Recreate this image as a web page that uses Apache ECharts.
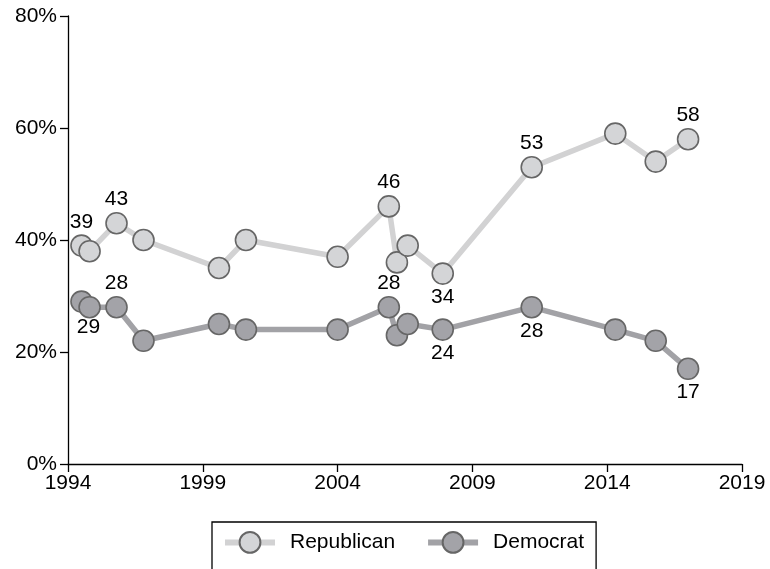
<!DOCTYPE html>
<html>
<head>
<meta charset="utf-8">
<script src="https://cdn.jsdelivr.net/npm/echarts@6/dist/echarts.min.js"></script>
<style>html,body{margin:0;padding:0;background:#fff;}#c{width:770px;height:569px;}</style>
</head>
<body>
<div id="c"></div>
<script>
var years = [1994.5, 1994.8, 1995.8, 1996.8, 1999.6, 2000.6, 2004.0, 2005.9, 2006.2, 2006.6, 2007.9, 2011.2, 2014.3, 2015.8, 2017.0];
var republican = [39, 38, 43, 40, 35, 40, 37, 46, 36, 39, 34, 53, 59, 54, 58];
var democrat = [29, 28, 28, 22, 25, 24, 24, 28, 23, 25, 24, 28, 24, 22, 17];
var xTicks = [1994, 1999, 2004, 2009, 2014, 2019];
var yTicks = [0, 20, 40, 60, 80];
// labelled points: index -> side
var repLabels = {0: 'top', 2: 'top', 7: 'top', 10: 'bottom', 11: 'top', 14: 'top'};
var demLabels = {0: 'bottom', 2: 'top', 7: 'top', 10: 'bottom', 11: 'bottom', 14: 'bottom'};

var FONT = '"Liberation Sans", Arial, Helvetica, sans-serif';

function build(vals, labels) {
  return vals.map(function (v, i) {
    var item = { value: [years[i], v] };
    if (labels[i]) {
      item.label = { show: true, position: labels[i], offset: (i === 0 && labels[i] === 'bottom') ? [7, 2] : [0, 0] };
    }
    return item;
  });
}

var chart = echarts.init(document.getElementById('c'));
chart.setOption({
  animation: false,
  backgroundColor: '#fff',
  grid: { left: 68, right: 28, top: 16, bottom: 105, containLabel: false },
  xAxis: {
    type: 'value', min: xTicks[0], max: xTicks[xTicks.length - 1], interval: 5,
    axisLine: { show: true, lineStyle: { color: '#000', width: 1.3 } },
    axisTick: { show: true, length: 8, lineStyle: { color: '#000', width: 1.3 } },
    axisLabel: { color: '#000', fontSize: 21, fontFamily: FONT, margin: 9, formatter: function (v) { return String(v); } },
    splitLine: { show: false }
  },
  yAxis: {
    type: 'value', min: yTicks[0], max: yTicks[yTicks.length - 1], interval: 20,
    axisLine: { show: true, lineStyle: { color: '#000', width: 1.3 } },
    axisTick: { show: true, length: 8, lineStyle: { color: '#000', width: 1.3 } },
    axisLabel: { color: '#000', fontSize: 21, fontFamily: FONT, margin: 11, formatter: '{value}%' },
    splitLine: { show: false }
  },
  legend: {
    left: 212, top: 522,
    padding: [9, 12, 40, 10],
    itemGap: 30,
    itemWidth: 50, itemHeight: 26,
    borderColor: '#000', borderWidth: 1.3,
    lineStyle: { width: 6 },
    textStyle: { color: '#000', fontSize: 21, fontFamily: FONT, padding: [0, 0, 0, 10] },
    data: ['Republican', 'Democrat']
  },
  series: [
    {
      name: 'Republican', type: 'line', data: build(republican, repLabels),
      symbol: 'circle', symbolSize: 21,
      lineStyle: { color: '#d2d2d3', width: 5.5 },
      itemStyle: { color: '#d4d5d7', borderColor: '#666', borderWidth: 1.6 },
      label: { show: false, color: '#000', fontSize: 21, fontFamily: FONT, distance: 2, formatter: function (p) { return p.value[1]; } },
      emphasis: { disabled: true }, z: 2
    },
    {
      name: 'Democrat', type: 'line', data: build(democrat, demLabels),
      symbol: 'circle', symbolSize: 21,
      lineStyle: { color: '#a2a2a6', width: 5.5 },
      itemStyle: { color: '#a3a3a8', borderColor: '#666', borderWidth: 1.6 },
      label: { show: false, color: '#000', fontSize: 21, fontFamily: FONT, distance: 2, formatter: function (p) { return p.value[1]; } },
      emphasis: { disabled: true }, z: 3
    }
  ]
});
</script>
</body>
</html>
